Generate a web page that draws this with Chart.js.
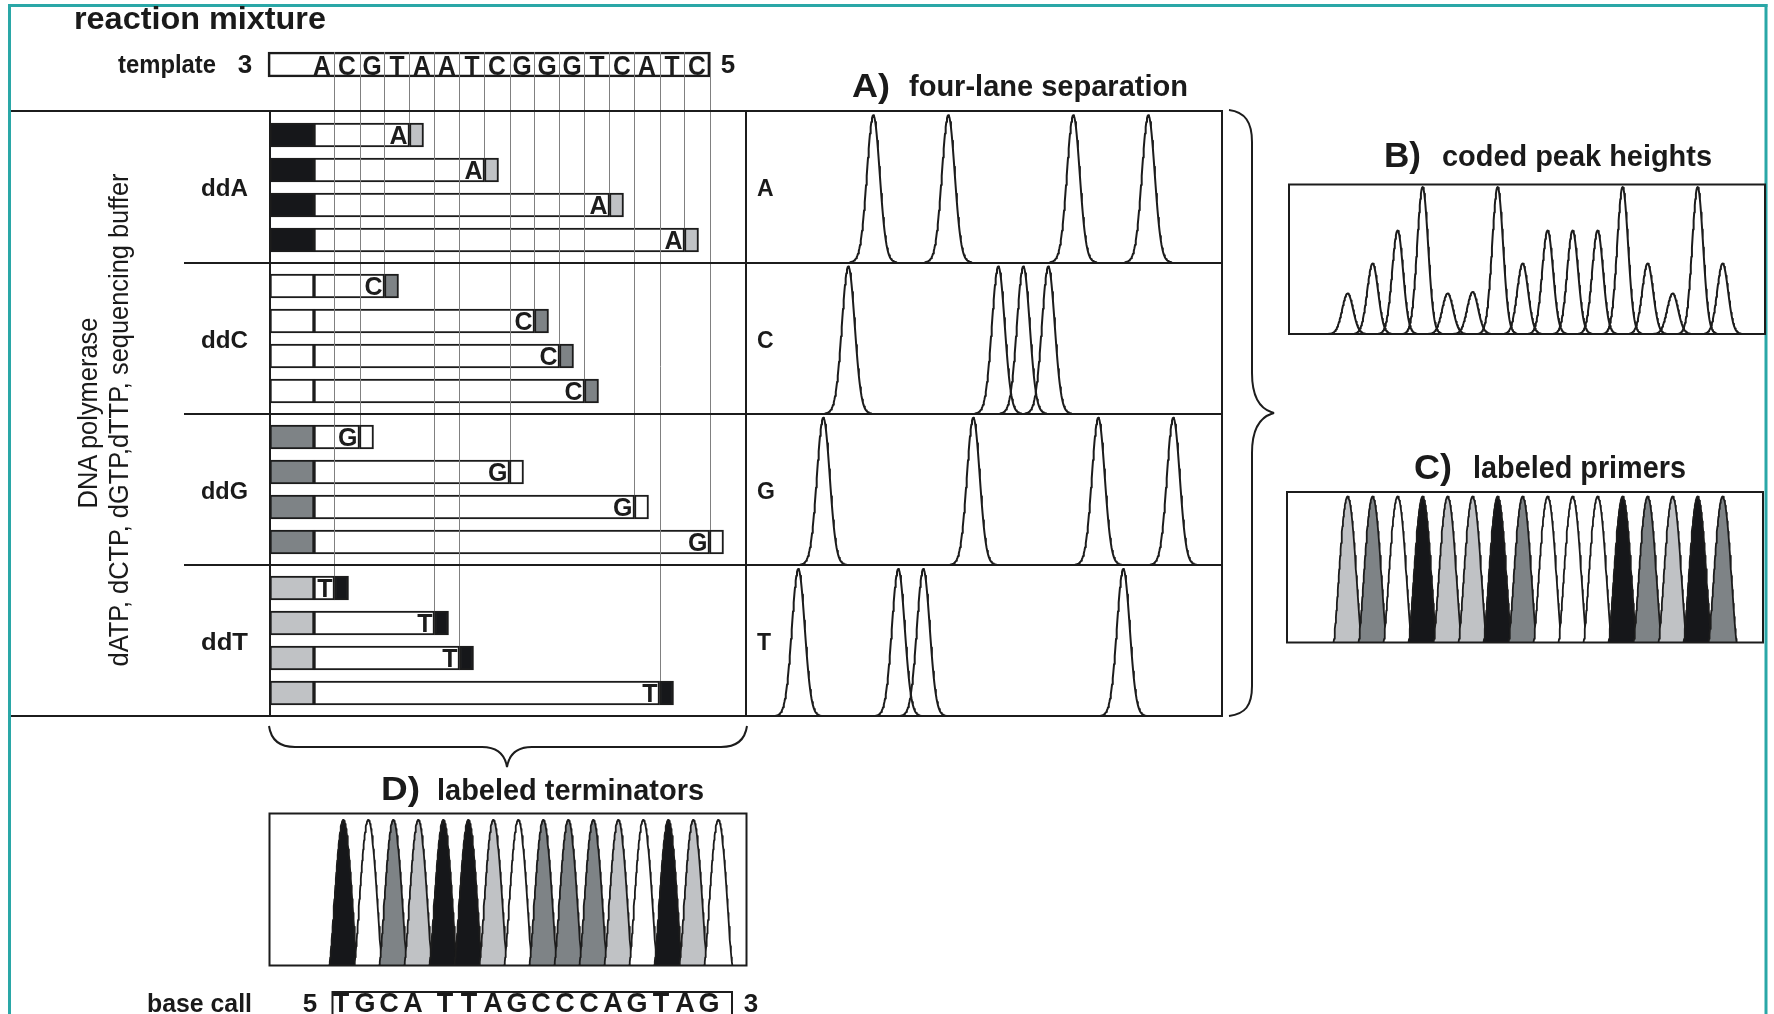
<!DOCTYPE html>
<html><head><meta charset="utf-8">
<script src="https://cdn.jsdelivr.net/npm/chart.js@4.4.1/dist/chart.umd.min.js"></script>
<style>
html,body{margin:0;padding:0;background:#fff;}
#page{position:relative;width:1774px;height:1014px;overflow:hidden;background:#fff;font-family:"Liberation Sans",Arial,Helvetica,sans-serif;color:#1a1a1a;}
.cv{position:absolute;}
.t{position:absolute;white-space:nowrap;line-height:1;color:#1a1a1a;}
#ov{position:absolute;left:0;top:0;pointer-events:none;}
</style></head><body><div id="page"></div>
<script>
// ---------------- DATA ----------------
const templateSeq = ['A','C','G','T','A','A','T','C','G','G','G','T','C','A','T','C']; // 3' -> 5'
const baseCall    = ['T','G','C','A','T','T','A','G','C','C','C','A','G','T','A','G']; // 5' -> 3'
const terminatorNames = ['ddA','ddC','ddG','ddT'];
const laneNames = ['A','C','G','T'];
const stopsA = [3,6,11,14];
const stopsC = [2,8,9,10];
const stopsG = [1,7,12,15];
const stopsT = [0,4,5,13];
const codedHeights = [0.27,0.47,0.69,0.98,0.27,0.28,0.98,0.47,0.69,0.69,0.69,0.98,0.47,0.27,0.98,0.47];
const primerShadeByLane = ['black','white','dark','light'];
const terminatorShadeByLane = ['light','dark','white','black'];
const shades = {black:'#16171a', dark:'#7e8386', light:'#c0c2c5', white:'#ffffff'};
const laneStops = [stopsA, stopsC, stopsG, stopsT];

// ---------------- helpers ----------------
const page = document.getElementById('page');
const INK = '#1c1c1c';
const FONT = '"Liberation Sans", Arial, Helvetica, sans-serif';

function makeCanvas(left, top, w, h) {
  const c = document.createElement('canvas');
  c.className = 'cv';
  c.width = w; c.height = h;
  c.style.left = left + 'px'; c.style.top = top + 'px';
  c.style.width = w + 'px'; c.style.height = h + 'px';
  page.appendChild(c);
  return c;
}
function baseOptions(xmin, xmax, ymin, ymax, rev) {
  return {
    responsive: false, animation: false, events: [], devicePixelRatio: 1,
    layout: {padding: 0},
    plugins: {legend: {display: false}, tooltip: {enabled: false}},
    scales: {
      x: {type: 'linear', min: xmin, max: xmax, display: false, offset: false, grid: {offset: false}},
      y: {type: 'linear', min: ymin, max: ymax, display: false, reverse: !!rev, offset: false, grid: {offset: false}}
    }
  };
}
// peak glyph shapes (drawn around each peak value)
function gaussPeak(center, height, sigma, base) {
  const pts = [{x: center - 3.6 * sigma, y: base}];
  for (let i = -32; i <= 32; i++) {
    const dx = i * sigma / 9.7;
    pts.push({x: center + dx, y: base + height * Math.exp(-dx * dx / (2 * sigma * sigma))});
  }
  pts.push({x: center + 3.6 * sigma, y: base});
  return pts;
}
function cosPeak(center, height, half, base) {
  const pts = [];
  for (let i = -30; i <= 30; i++) {
    const t = i / 30;
    pts.push({x: center + t * half, y: base + height * Math.pow(Math.cos(Math.PI * t / 2), 1.3)});
  }
  return pts;
}
function lineDs(data, extra) {
  return Object.assign({data, borderColor: INK, borderWidth: 2, pointRadius: 0, tension: 0,
    fill: false, clip: false, borderJoinStyle: 'round', borderCapStyle: 'round'}, extra || {});
}

// ---------------- fragments (reaction mixture) ----------------
const FR = {left: 250, top: 40, width: 520, height: 680};
const cellPx = 25, cellX0 = 309.5;   // pixel of boundary before template cell 0
const rowPx = 35, row0 = 135;        // pixel of first fragment row centre
const groupSlots = 151 / 35;
const templateSlot = (64.5 - 135) / 35;
const primerStart = -1.58, primerEnd = 0.18, termLen = 0.56;
const frags = [];
laneStops.forEach((stops, g) => stops.forEach((k, r) => frags.push({g, r, k, slot: g * groupSlots + r})));

const fragPlugin = {
  id: 'fragText',
  afterDatasetsDraw(chart) {
    const ctx = chart.ctx, xs = chart.scales.x, ys = chart.scales.y;
    ctx.save();
    ctx.strokeStyle = '#808080'; ctx.lineWidth = 1;
    const yTop = ys.getPixelForValue(templateSlot) - 12.5;
    frags.forEach(f => {
      const x = Math.round(xs.getPixelForValue(f.k + 1)) + 0.5;
      const yEnd = ys.getPixelForValue(f.slot) - 12;
      ctx.beginPath(); ctx.moveTo(x, yTop); ctx.lineTo(x, yEnd); ctx.stroke();
    });
    ctx.fillStyle = INK; ctx.textBaseline = 'alphabetic';
    ctx.textAlign = 'center';
    ctx.font = 'bold 28px ' + FONT;
    const ty = ys.getPixelForValue(templateSlot) + 10.5;
    templateSeq.forEach((b, k) => {
      ctx.save(); ctx.translate(xs.getPixelForValue(k + 0.5), ty); ctx.scale(0.88, 1);
      ctx.fillText(b, 0, 0); ctx.restore();
    });
    ctx.textAlign = 'right';
    ctx.font = 'bold 25px ' + FONT;
    frags.forEach(f => {
      ctx.fillText(laneNames[f.g], xs.getPixelForValue(f.k + 1) - 2, ys.getPixelForValue(f.slot) + 9);
    });
    ctx.restore();
  }
};
{
  const c = makeCanvas(FR.left, FR.top, FR.width, FR.height);
  const o = baseOptions((FR.left - cellX0) / cellPx, (FR.left + FR.width - cellX0) / cellPx,
    (FR.top - row0) / rowPx, (FR.top + FR.height - row0) / rowPx, true);
  o.indexAxis = 'y';
  const common = {borderColor: INK, borderWidth: 2, borderSkipped: false, barThickness: 24, grouped: false};
  new Chart(c, {
    type: 'bar',
    data: {datasets: [
      Object.assign({label: 'template', data: [{y: templateSlot, x: [-1.66, 16.02]}],
        backgroundColor: 'rgba(0,0,0,0)'}, common, {barThickness: 25}),
      Object.assign({label: 'primer', data: frags.map(f => ({y: f.slot, x: [primerStart, primerEnd]})),
        backgroundColor: frags.map(f => shades[primerShadeByLane[f.g]])}, common),
      Object.assign({label: 'extension', data: frags.map(f => ({y: f.slot, x: [primerEnd, f.k + 1]})),
        backgroundColor: '#ffffff'}, common),
      Object.assign({label: 'terminator', data: frags.map(f => ({y: f.slot, x: [f.k + 1, f.k + 1 + termLen]})),
        backgroundColor: frags.map(f => shades[terminatorShadeByLane[f.g]])}, common)
    ]},
    options: o,
    plugins: [fragPlugin]
  });
}

// ---------------- A) four-lane separation ----------------
{
  const c = makeCanvas(746, 111, 476, 605);
  const ds = [];
  laneStops.forEach((stops, li) => stops.forEach(p => ds.push(lineDs(gaussPeak(p, 0.972, 0.256, 3 - li)))));
  new Chart(c, {type: 'line', data: {datasets: ds},
    options: baseOptions((746 - 798.3) / 25, (1222 - 798.3) / 25, 0, 4)});
}
// ---------------- B) coded peak heights ----------------
{
  const c = makeCanvas(1289, 184, 476, 150);
  const ds = codedHeights.map((h, p) => lineDs(gaussPeak(p, h, 0.22, 0)));
  new Chart(c, {type: 'line', data: {datasets: ds},
    options: baseOptions((1289 - 1347.6) / 25, (1765 - 1347.6) / 25, 0, 1)});
}
// ---------------- C) labeled primers ----------------
{
  const c = makeCanvas(1287, 492, 476, 150);
  const ds = baseCall.map((b, p) => lineDs(cosPeak(p, 0.97, 0.56, 0),
    {fill: 'origin', backgroundColor: shades[primerShadeByLane[laneNames.indexOf(b)]], order: 16 - p, borderWidth: 1.8}));
  new Chart(c, {type: 'line', data: {datasets: ds},
    options: baseOptions((1287 - 1347.6) / 25, (1763 - 1347.6) / 25, 0, 1)});
}
// ---------------- D) labeled terminators ----------------
{
  const c = makeCanvas(269, 813, 478, 152);
  const ds = baseCall.map((b, p) => lineDs(cosPeak(p, 0.955, 0.56, 0),
    {fill: 'origin', backgroundColor: shades[terminatorShadeByLane[laneNames.indexOf(b)]], order: 16 - p, borderWidth: 1.8}));
  new Chart(c, {type: 'line', data: {datasets: ds},
    options: baseOptions((269 - 343.3) / 25, (747 - 343.3) / 25, 0, 1)});
}

// ---------------- frame, boxes, braces ----------------
{
  const teal = '#2aa7a7', k = INK;
  let s = `<svg id="ov" width="1774" height="1014" xmlns="http://www.w3.org/2000/svg">`;
  s += `<line x1="9.5" y1="4" x2="9.5" y2="1014" stroke="${teal}" stroke-width="3"/>`;
  s += `<line x1="8" y1="5.5" x2="1767.5" y2="5.5" stroke="${teal}" stroke-width="3"/>`;
  s += `<line x1="1766" y1="4" x2="1766" y2="1014" stroke="${teal}" stroke-width="3"/>`;
  const H = (x1, x2, y) => `<line x1="${x1}" y1="${y}" x2="${x2}" y2="${y}" stroke="${k}" stroke-width="2"/>`;
  const V = (x, y1, y2) => `<line x1="${x}" y1="${y1}" x2="${x}" y2="${y2}" stroke="${k}" stroke-width="2"/>`;
  s += H(11, 1223, 111) + H(11, 1223, 716) + H(184, 1222, 263) + H(184, 1222, 414) + H(184, 1222, 565);
  s += V(270, 110, 717) + V(746, 110, 717) + V(1222, 110, 717);
  const R = (x, y, w, h) => `<rect x="${x}" y="${y}" width="${w}" height="${h}" fill="none" stroke="${k}" stroke-width="2"/>`;
  s += R(1289, 184.5, 476, 149.5) + R(1287, 492, 476, 150.5) + R(269.5, 813.5, 477, 152) + R(332.5, 992, 399.5, 40);
  s += `<path d="M1229 110 C1245 112,1252 122,1252 142 L1252 373 C1252 400,1262 410,1274 413 C1262 416,1252 426,1252 453 L1252 686 C1252 706,1245 714,1229 716" fill="none" stroke="${k}" stroke-width="2"/>`;
  s += `<path d="M269 726 C271 740,280 747,295 747 L482 747 C497 747,505 755,507 767 C509 755,517 747,532 747 L721 747 C736 747,745 740,747 726" fill="none" stroke="${k}" stroke-width="2"/>`;
  s += `</svg>`;
  page.insertAdjacentHTML('beforeend', s);
}

// ---------------- text ----------------
function addText(str, o) {
  const d = document.createElement('div');
  d.className = 't';
  d.textContent = str;
  d.style.fontSize = o.size + 'px';
  d.style.fontWeight = o.bold ? '700' : '400';
  page.appendChild(d);
  const nat = d.getBoundingClientRect().width;
  const w = o.w || nat;
  const sx = w / nat;
  if (o.rot) {
    d.style.left = o.cx + 'px'; d.style.top = o.cy + 'px';
    d.style.transform = `translate(-50%,-50%) rotate(-90deg) scaleX(${sx})`;
  } else {
    let left = o.x;
    if (o.align === 'center') left = o.x - w / 2;
    d.style.left = left + 'px';
    d.style.top = (o.base - 0.8465 * o.size) + 'px';
    d.style.transformOrigin = '0 0';
    d.style.transform = `scaleX(${sx})`;
  }
  return d;
}
addText('reaction mixture', {x: 74, base: 29.5, size: 31, bold: true, w: 252});
addText('template', {x: 118, base: 73, size: 26, bold: true, w: 98});
addText('3', {x: 245, base: 73, size: 26, bold: true, align: 'center'});
addText('5', {x: 728, base: 73, size: 26, bold: true, align: 'center'});
addText('A)', {x: 852, base: 96.5, size: 34, bold: true, w: 38});
addText('four-lane separation', {x: 909, base: 96, size: 30, bold: true, w: 279});
addText('B)', {x: 1384, base: 166.7, size: 35, bold: true, w: 37});
addText('coded peak heights', {x: 1442, base: 166.5, size: 30, bold: true, w: 270});
addText('C)', {x: 1414, base: 479, size: 35, bold: true, w: 38});
addText('labeled primers', {x: 1473, base: 478.5, size: 31, bold: true, w: 213});
addText('D)', {x: 381, base: 800, size: 33, bold: true, w: 39});
addText('labeled terminators', {x: 437, base: 800, size: 30, bold: true, w: 267});
terminatorNames.forEach((n, g) => addText(n, {x: 201, base: 196.7 + 151.3 * g, size: 24, bold: true, w: 47}));
laneNames.forEach((n, g) => addText(n, {x: 757, base: 196.7 + 151.3 * g, size: 23, bold: true}));
addText('DNA polymerase', {rot: true, cx: 88, cy: 412.5, size: 27, w: 191});
addText('dATP, dCTP, dGTP,dTTP, sequencing buffer', {rot: true, cx: 119, cy: 419.5, size: 27, w: 493});
addText('base call', {x: 147, base: 1012, size: 26, bold: true, w: 105});
addText('5', {x: 310, base: 1012, size: 26, bold: true, align: 'center'});
addText('3', {x: 751, base: 1012, size: 26, bold: true, align: 'center'});
baseCall.forEach((b, i) => addText(b, {x: 341 + 24 * i + (i >= 4 ? 8 : 0), base: 1013, size: 27, bold: true, align: 'center'}));
</script></body></html>
